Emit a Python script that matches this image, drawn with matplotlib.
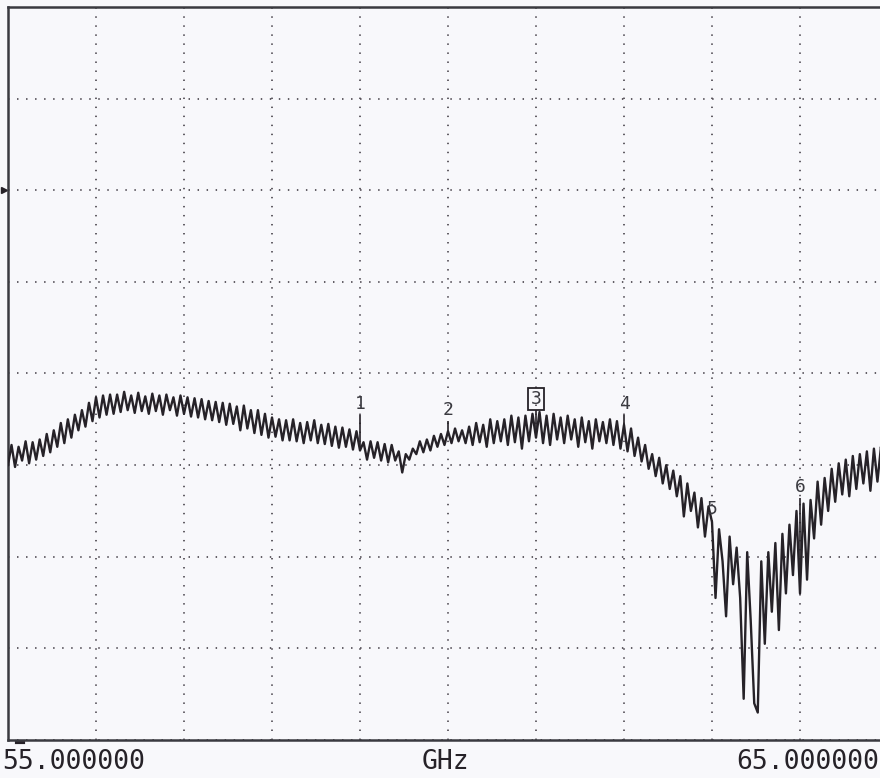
import matplotlib.pyplot as plt
import numpy as np

# sweep: 55 - 65 GHz, trace level in screen divisions (0 = bottom, 8 = top)
f_start = 55.0
f_stop = 65.0
trace = [
    3.00, 3.22, 2.98, 3.20, 3.05, 3.26, 3.02, 3.25, 3.06, 3.28,
    3.10, 3.34, 3.14, 3.38, 3.20, 3.46, 3.24, 3.50, 3.30, 3.55,
    3.38, 3.60, 3.42, 3.68, 3.48, 3.74, 3.52, 3.76, 3.55, 3.77,
    3.56, 3.77, 3.58, 3.80, 3.60, 3.76, 3.57, 3.79, 3.59, 3.75,
    3.56, 3.78, 3.59, 3.76, 3.55, 3.77, 3.60, 3.74, 3.54, 3.76,
    3.56, 3.74, 3.53, 3.73, 3.52, 3.72, 3.50, 3.70, 3.49, 3.69,
    3.47, 3.68, 3.44, 3.67, 3.45, 3.64, 3.38, 3.65, 3.40, 3.60,
    3.35, 3.60, 3.33, 3.56, 3.30, 3.52, 3.31, 3.50, 3.27, 3.49,
    3.27, 3.50, 3.26, 3.46, 3.24, 3.47, 3.27, 3.49, 3.24, 3.44,
    3.23, 3.45, 3.21, 3.42, 3.19, 3.41, 3.20, 3.39, 3.17, 3.37,
    3.16, 3.25, 3.06, 3.26, 3.08, 3.25, 3.05, 3.23, 3.03, 3.22,
    3.05, 3.15, 2.92, 3.12, 3.06, 3.18, 3.12, 3.26, 3.14, 3.28,
    3.16, 3.32, 3.20, 3.34, 3.22, 3.37, 3.24, 3.40, 3.26, 3.38,
    3.24, 3.42, 3.22, 3.46, 3.25, 3.44, 3.20, 3.50, 3.24, 3.48,
    3.26, 3.50, 3.22, 3.54, 3.25, 3.52, 3.18, 3.54, 3.26, 3.56,
    3.30, 3.58, 3.24, 3.54, 3.22, 3.56, 3.28, 3.52, 3.24, 3.54,
    3.28, 3.50, 3.20, 3.52, 3.25, 3.48, 3.18, 3.50, 3.26, 3.47,
    3.24, 3.50, 3.22, 3.48, 3.18, 3.44, 3.15, 3.40, 3.10, 3.30,
    3.04, 3.22, 2.96, 3.12, 2.88, 3.08, 2.80, 3.00, 2.74, 2.94,
    2.66, 2.88, 2.44, 2.80, 2.50, 2.70, 2.32, 2.64, 2.22, 2.55,
    2.38, 1.55, 2.30, 1.95, 1.35, 2.22, 1.70, 2.10, 1.55, 0.45,
    2.05, 1.30, 0.40, 0.30, 1.95, 1.05, 2.05, 1.40, 2.15, 1.20,
    2.25, 1.60, 2.35, 1.80, 2.50, 1.60, 2.58, 1.75, 2.62, 2.20,
    2.82, 2.35, 2.86, 2.50, 2.96, 2.60, 3.02, 2.68, 3.06, 2.66,
    3.10, 2.74, 3.12, 2.80, 3.15, 2.72, 3.18, 2.82, 3.20, 2.86,
    3.15,
]
freqs = np.linspace(f_start, f_stop, len(trace))

# markers: frequency, label, level of the label's lower edge
marker_freqs = [59.0, 60.0, 61.0, 62.0, 63.0, 64.0]
marker_labels = ['1', '2', '3', '4', '5', '6']
marker_levels = [3.55, 3.48, 3.60, 3.55, 2.40, 2.64]
active_marker = '3'

ink = '#262228'
paper = '#f8f8fb'

fig = plt.figure(figsize=(8.8, 7.78), dpi=100, facecolor=paper)
ax = fig.add_axes([8 / 880, 1 - 740 / 778, 1.0, (740 - 7) / 778])
ax.set_facecolor(paper)

ax.set_xlim(f_start, f_stop)
ax.set_ylim(0, 8)
ax.set_xticks(np.arange(f_start, f_stop + 0.5, 1.0))
ax.set_yticks(np.arange(0, 9, 1))
ax.tick_params(length=0, labelbottom=False, labelleft=False)
ax.grid(True, color='#555058', linewidth=1.3, linestyle=(0, (0.8, 4.2)))

for side in ['left', 'bottom', 'top']:
    ax.spines[side].set_color('#3a3a40')
    ax.spines[side].set_linewidth(1.8)
ax.spines['right'].set_visible(False)

ax.plot(freqs, trace, color=ink, linewidth=1.7, zorder=3)

mono = 'DejaVu Sans Mono'
for mf, lab, lev in zip(marker_freqs, marker_labels, marker_levels):
    val = np.interp(mf, freqs, trace)
    ax.vlines(mf, val, lev, color=ink, linewidth=1.2, zorder=4)
    box = None
    if lab == active_marker:
        box = dict(boxstyle='square,pad=0.12', facecolor='none',
                   edgecolor=ink, linewidth=1.3)
    ax.text(mf, lev + 0.02, lab, ha='center', va='bottom', family=mono,
            fontsize=13, color='#3a3a40', bbox=box, zorder=5)

# reference level pointer on the left edge
ax.plot([-0.004], [6], marker='>', markersize=5, color=ink,
        transform=ax.get_yaxis_transform(), clip_on=False)
ax.plot([0.01, 0.017], [-0.003, -0.003], color=ink, linewidth=3,
        transform=ax.transAxes, clip_on=False)

fig.text(2 / 880, 1 - 762 / 778, '55.000000', ha='left', va='center',
         family=mono, fontsize=19, color=ink)
fig.text(445 / 880, 1 - 762 / 778, 'GHz', ha='center', va='center',
         family=mono, fontsize=19, color=ink)
fig.text(879 / 880, 1 - 762 / 778, '65.000000', ha='right', va='center',
         family=mono, fontsize=19, color=ink)

fig.savefig('out.png', dpi=100, facecolor=paper)
